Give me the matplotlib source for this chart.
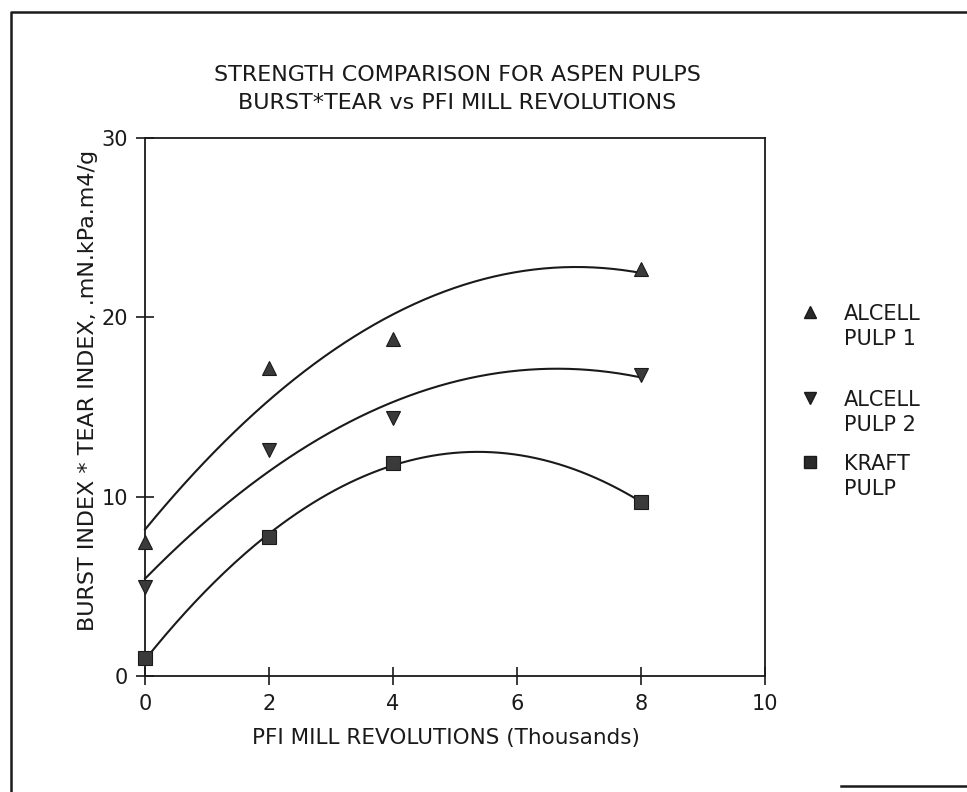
import numpy as np
import matplotlib
matplotlib.use("Agg")
import matplotlib.pyplot as plt
from matplotlib.lines import Line2D

# data (x in thousands of PFI revolutions)
revs = [0, 2, 4, 8]
alcell1 = [7.5, 17.2, 18.8, 22.7]
alcell2 = [5.0, 12.6, 14.4, 16.8]
kraft = [1.0, 7.75, 11.9, 9.7]

series = [("ALCELL\nPULP 1", alcell1, "^"),
          ("ALCELL\nPULP 2", alcell2, "v"),
          ("KRAFT\nPULP", kraft, "s")]

ink = "#1a1a1a"
plt.rcParams["font.family"] = ["DejaVu Sans"]

fig = plt.figure(figsize=(9.67, 7.92), dpi=100)
ax = fig.add_axes([0.150, 0.146, 0.641, 0.680])

xs = np.linspace(0, 8, 200)
for label, ys, mk in series:
    # second order fit like the original
    coef = np.polyfit(revs, ys, 2)
    ax.plot(xs, np.polyval(coef, xs), color=ink, lw=1.5, clip_on=False)
    ax.plot(revs, ys, ls="none", marker=mk, ms=10.5, color="#3a3a3a",
            mec=ink, mew=0.8, clip_on=False, zorder=3)

ax.set_xlim(0, 10)
ax.set_ylim(0, 30)
ax.set_xticks([0, 2, 4, 6, 8, 10])
ax.set_yticks([0, 10, 20, 30])
ax.tick_params(direction="inout", length=13, width=1.2, colors=ink,
               labelsize=15, pad=6)
for s in ax.spines.values():
    s.set_linewidth(1.3)
    s.set_color(ink)

ax.set_xlabel("PFI MILL REVOLUTIONS (Thousands)", fontsize=15.5, color=ink)
ax.set_ylabel("BURST INDEX * TEAR INDEX, .mN.kPa.m4/g", fontsize=16,
              color=ink)
ax.xaxis.set_label_coords(0.485, -0.095)
ax.yaxis.set_label_coords(-0.076, 0.53)

fig.text(0.473, 0.905, "STRENGTH COMPARISON FOR ASPEN PULPS", ha="center",
         va="center", fontsize=16, color=ink)
fig.text(0.473, 0.870, "BURST*TEAR vs PFI MILL REVOLUTIONS", ha="center",
         va="center", fontsize=16, color=ink)

# legend to the right of the axes, marker beside first text line
leg_y = [0.606, 0.497, 0.417]
for (label, ys, mk), y in zip(series, leg_y):
    fig.add_artist(Line2D([0.838], [y], marker=mk, ms=8, ls="none",
                          color="#2a2a2a", mec=ink, transform=fig.transFigure))
    fig.text(0.873, y + 0.010, label, ha="left", va="top", fontsize=15,
             color=ink, linespacing=1.3)

# scanned page frame
fig.add_artist(Line2D([0.011, 0.011, 1.0], [0.0, 0.985, 0.985], color=ink,
                      lw=1.8, transform=fig.transFigure))
fig.add_artist(Line2D([0.87, 1.0], [0.008, 0.008], color=ink, lw=1.8,
                      transform=fig.transFigure))

fig.savefig("out.png", dpi=100)
